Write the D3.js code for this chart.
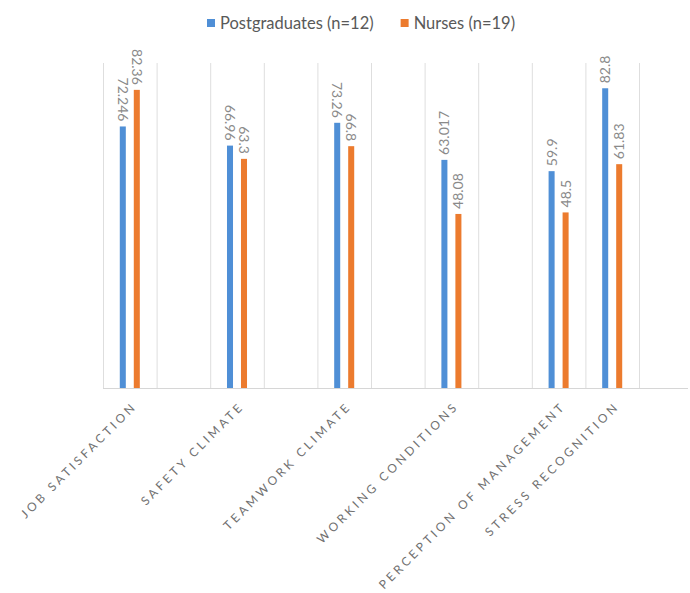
<!DOCTYPE html>
<html>
<head>
<meta charset="utf-8">
<script src="https://cdn.jsdelivr.net/npm/d3@7"></script>
<style>
  html, body { margin: 0; padding: 0; background: #ffffff; }
  svg { display: block; }
</style>
</head>
<body>
<script>
const categories = ["JOB SATISFACTION", "SAFETY CLIMATE", "TEAMWORK CLIMATE", "WORKING CONDITIONS", "PERCEPTION OF MANAGEMENT", "STRESS RECOGNITION"];
const seriesNames = ["Postgraduates (n=12)", "Nurses (n=19)"];
const postgraduates = [72.246, 66.96, 73.26, 63.017, 59.9, 82.8];
const nurses = [82.36, 63.3, 66.8, 48.08, 48.5, 61.83];
const labelsPostgraduates = ["72.246", "66.96", "73.26", "63.017", "59.9", "82.8"];
const labelsNurses = ["82.36", "63.3", "66.8", "48.08", "48.5", "61.83"];

const W = 690, H = 593;
const colors = ["#4f8fd6", "#ec7b2e"];
const seriesValues = [postgraduates, nurses];
const seriesLabels = [labelsPostgraduates, labelsNurses];

const svg = d3.select("body").append("svg").attr("width", W).attr("height", H);

// band slots: each of the first four categories is followed by an empty slot
const slots = categories.flatMap((c, i) => i < categories.length - 2 ? [c, c + "__gap"] : [c]);
const x = d3.scaleBand().domain(slots).range([103, 639]).padding(0);
const bw = x.bandwidth();
const x1 = d3.scaleBand().domain(seriesNames).range([bw / 2 - 14, bw / 2 + 14])
  .paddingInner(0.57).paddingOuter(0.285);
const y = d3.scaleLinear().domain([0, 100]).range([388, 26]);

// vertical gridlines at band edges
const edges = slots.map(s => x(s)).concat([x.range()[1]]);
svg.append("g").selectAll("line").data(edges).join("line")
  .attr("x1", d => d + 0.5).attr("x2", d => d + 0.5)
  .attr("y1", 63).attr("y2", y(0))
  .attr("stroke", "#dedede").attr("stroke-width", 1);

// baseline
svg.append("line")
  .attr("x1", x.range()[0]).attr("x2", 688)
  .attr("y1", y(0) + 0.5).attr("y2", y(0) + 0.5)
  .attr("stroke", "#d6d6d6").attr("stroke-width", 1.2);

// bars
const rows = categories.map((c, i) => ({ c, i }));
seriesNames.forEach((s, si) => {
  const g = svg.append("g");
  g.selectAll("rect").data(rows).join("rect")
    .attr("x", d => x(d.c) + x1(s))
    .attr("width", x1.bandwidth())
    .attr("y", d => y(seriesValues[si][d.i]))
    .attr("height", d => y(0) - y(seriesValues[si][d.i]))
    .attr("fill", colors[si]);

  g.selectAll("text").data(rows).join("text")
    .attr("transform", d => {
      const cx = x(d.c) + x1(s) + x1.bandwidth() / 2;
      const cy = y(seriesValues[si][d.i]) - 5;
      return `translate(${cx},${cy}) rotate(${d.i < 3 ? 90 : -90})`;
    })
    .attr("text-anchor", d => d.i < 3 ? "end" : "start")
    .attr("dy", "0.35em")
    .attr("font-family", "Lato, 'Open Sans', sans-serif")
    .attr("font-size", 14)
    .attr("fill", "#8a8a8a")
    .text(d => seriesLabels[si][d.i]);
});

// category labels
svg.append("g").selectAll("text").data(categories).join("text")
  .attr("transform", d => `translate(${x(d) + bw / 2 + 5},${y(0) + 16}) rotate(-45)`)
  .attr("text-anchor", "end")
  .attr("dy", "0.35em")
  .attr("font-family", "Lato, 'Open Sans', sans-serif")
  .attr("font-size", 12)
  .attr("letter-spacing", "3.2px")
  .attr("fill", "#707070")
  .text(d => d);

// legend
const legend = svg.append("g").attr("transform", "translate(207,18)");
let lx = 0;
seriesNames.forEach((s, si) => {
  const item = legend.append("g").attr("transform", `translate(${lx},0)`);
  item.append("rect").attr("width", 8).attr("height", 8).attr("y", 1).attr("fill", colors[si]);
  const t = item.append("text").attr("x", 13).attr("y", 5).attr("dy", "0.35em")
    .attr("font-family", "Lato, 'Open Sans', sans-serif")
    .attr("font-size", 16.5).attr("fill", "#595959").text(s);
  lx += 13 + t.node().getComputedTextLength() + 27;
});
</script>
</body>
</html>
